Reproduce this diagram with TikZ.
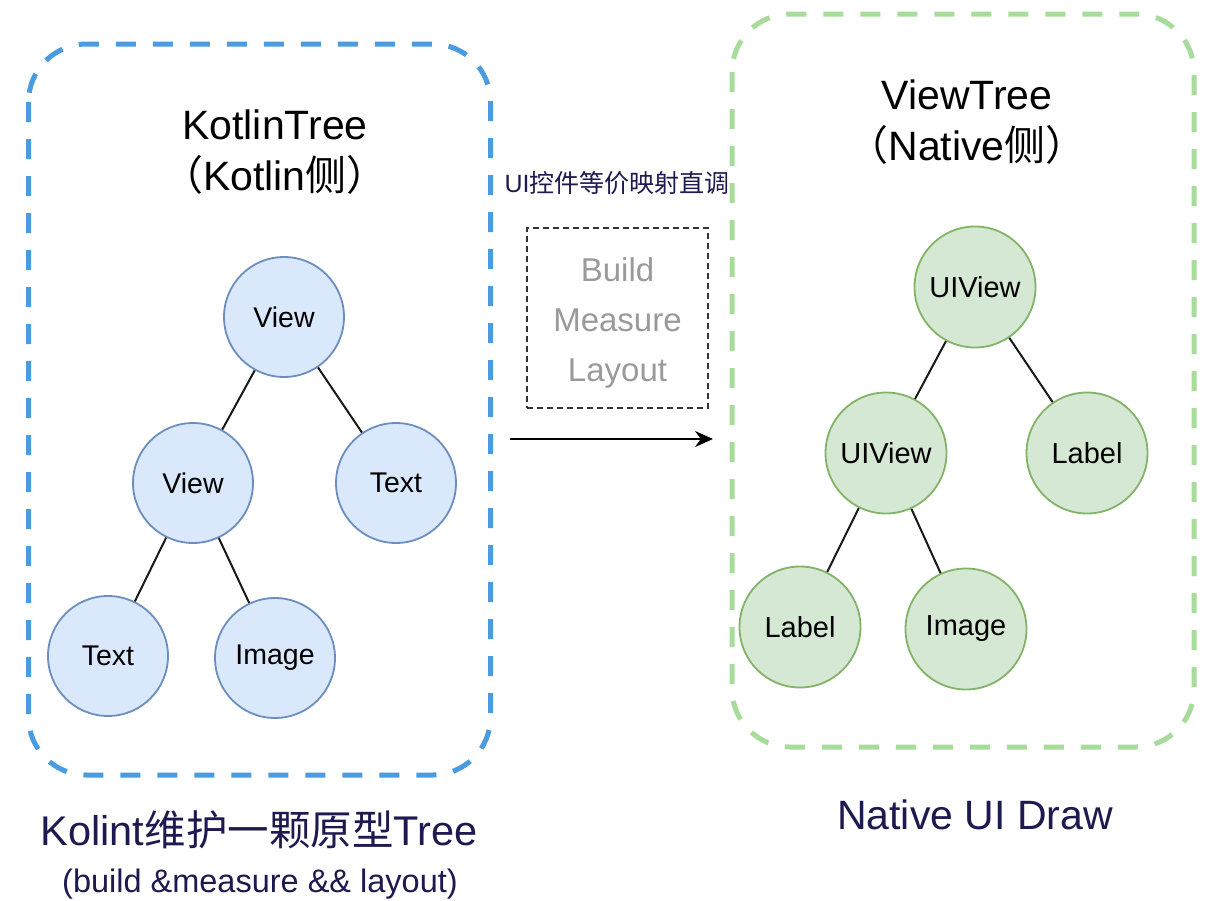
\documentclass[tikz,border=0pt]{standalone}
\usepackage{fontspec}
\setmainfont{Liberation Sans}
\newfontfamily\cjk{Noto Sans CJK SC}
\usetikzlibrary{arrows.meta}
\definecolor{boxblue}{HTML}{4A9BE0}
\definecolor{boxgreen}{HTML}{A8DC9A}
\definecolor{nblue}{HTML}{DAE8FC}
\definecolor{nbluedraw}{HTML}{6C8EBF}
\definecolor{ngreen}{HTML}{D5E8D4}
\definecolor{ngreendraw}{HTML}{82B366}
\definecolor{navy}{HTML}{1C1A4F}
\definecolor{graytxt}{HTML}{9A9A9A}
\tikzset{
  fs/.style={font=\fontsize{#1}{#1}\selectfont},
  bluenode/.style={circle, minimum size=120pt, inner sep=0pt, fill=nblue, draw=nbluedraw, line width=1.8pt, font=\fontsize{28.5}{34}\selectfont},
  greennode/.style={circle, minimum size=121pt, inner sep=0pt, fill=ngreen, draw=ngreendraw, line width=1.8pt, font=\fontsize{29}{34}\selectfont},
  treeedge/.style={draw=black!90, line width=2pt},
  outerbox/.style={rounded corners=58pt, line width=5pt, dash pattern=on 20pt off 17pt},
  title/.style={align=center, font=\fontsize{41}{51}\selectfont},
}
\begin{document}
\begin{tikzpicture}[x=1pt,y=-1pt]
\useasboundingbox (0,0) rectangle (1226,900);
\fill[white] (0,0) rectangle (1226,900);

% outer boxes
\draw[outerbox, draw=boxblue] (28.5,44) rectangle (490.5,775);
\draw[outerbox, draw=boxgreen] (732,14) rectangle (1194,747);

% titles
\node[title] (ktitle) at (275,152) {KotlinTree\\{\cjk （}Kotlin{\cjk 侧）}};
\node[title] (vtitle) at (967,122) {ViewTree\\{\cjk （}Native{\cjk 侧）}};

% middle
\node[fs=25, text=navy, inner sep=0pt] (map) at (617,183) {UI{\cjk 控件等价映射直调}};
\node[draw=black!80, line width=1.6pt, dash pattern=on 6pt off 4pt, minimum width=181pt, minimum height=180pt, inner sep=0pt] (bml) at (617.5,318) {};
\node[align=center, text=graytxt, font=\fontsize{33}{50}\selectfont] (bmltxt) at (617.5,323) {Build\\Measure\\Layout};
\coordinate (arrs) at (510,439);
\coordinate (arre) at (713,439);
\draw[line width=1.8pt, -{Stealth[length=18pt,width=16pt]}] (arrs) -- (arre);

% left tree
\node[bluenode] (kv1) at (284,317) {View};
\node[bluenode] (kv2) at (193,483) {View};
\node[bluenode] (kt1) at (396,483) {Text};
\node[bluenode] (kt2) at (108,656) {Text};
\node[bluenode] (ki) at (275,658) {Image};
\draw[treeedge] (kv1) -- (kv2);
\draw[treeedge] (kv1) -- (kt1);
\draw[treeedge] (kv2) -- (kt2);
\draw[treeedge] (kv2) -- (ki);

% right tree
\node[greennode] (uv1) at (975,287) {UIView};
\node[greennode] (uv2) at (886,453) {UIView};
\node[greennode] (ul1) at (1087,453) {Label};
\node[greennode] (ul2) at (800,627) {Label};
\node[greennode] (ui) at (966,629) {Image};
\draw[treeedge] (uv1) -- (uv2);
\draw[treeedge] (uv1) -- (ul1);
\draw[treeedge] (uv2) -- (ul2);
\draw[treeedge] (uv2) -- (ui);

% bottom captions
\node[fs=41.5, text=navy] (kcap) at (259,830) {Kolint{\cjk 维护一颗原型}Tree};
\node[fs=32.5, text=navy] (kcap2) at (260,884) {(build \&measure \&\& layout)};
\node[fs=41, text=navy] (ncap) at (975,815) {Native UI Draw};
\end{tikzpicture}
\end{document}
